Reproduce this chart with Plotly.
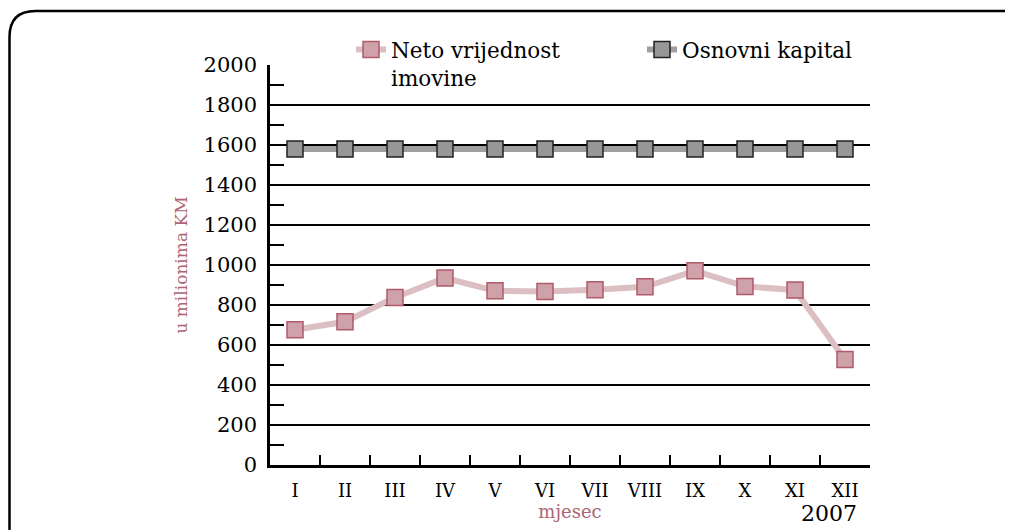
'''
    Monthly line chart: net asset value vs. share capital (2007).
'''
import plotly.graph_objects as go

months = ['I', 'II', 'III', 'IV', 'V', 'VI', 'VII', 'VIII', 'IX', 'X', 'XI', 'XII']
neto_imovina = [676, 716, 838, 935, 871, 868, 876, 891, 971, 893, 875, 528]
osnovni_kapital = [1580] * 12
y_ticks = [0, 200, 400, 600, 800, 1000, 1200, 1400, 1600, 1800, 2000]
grid_ticks = [200, 400, 600, 800, 1000, 1200, 1400, 1600, 1800]

FONT = 'DejaVu Serif'
TITLE_COLOR = '#ad6474'

# the page body adds an 8px margin, so the figure is a bit smaller
W, H = 1005, 522
L, R, T, B = 262, 862, 57, 457


def px_to_paper(px, py):
    return (px - L) / (R - L), (B - py) / (B - T)


def rounded_frame(x0, y0, x1, y1, r):
    '''Path (paper coords) of a rounded rectangle given in pixels.'''
    def p(x, y):
        a, b = px_to_paper(x, y)
        return f'{a:.5f},{b:.5f}'

    path = 'M' + p(x0, y0 + r)
    path += ' Q' + p(x0, y0) + ' ' + p(x0 + r, y0)
    path += ' L' + p(x1 - r, y0)
    path += ' Q' + p(x1, y0) + ' ' + p(x1, y0 + r)
    path += ' L' + p(x1, y1 - r)
    path += ' Q' + p(x1, y1) + ' ' + p(x1 - r, y1)
    path += ' L' + p(x0 + r, y1)
    path += ' Q' + p(x0, y1) + ' ' + p(x0, y1 - r)
    path += ' Z'
    return path


fig = go.Figure()

fig.add_trace(go.Scatter(
    x=months, y=neto_imovina, mode='lines+markers',
    name='Neto vrijednost<br>imovine',
    line=dict(color='#dcbfc3', width=6),
    marker=dict(symbol='square', size=16, color='#cfa1a8',
                line=dict(color='#b05a6a', width=1.5)),
))
fig.add_trace(go.Scatter(
    x=months, y=osnovni_kapital, mode='lines+markers', yaxis='y2',
    name='Osnovni kapital',
    line=dict(color='#a0a0a0', width=6),
    marker=dict(symbol='square', size=16, color='#979797',
                line=dict(color='#222222', width=1.5)),
))

fig.update_layout(
    width=W, height=H,
    margin=dict(l=L, r=W - R, t=T, b=H - B, autoexpand=False),
    paper_bgcolor='white', plot_bgcolor='white',
    font=dict(family=FONT, color='black'),
    showlegend=True,
    legend=dict(
        orientation='h', x=0.135, y=1.09, xanchor='left', yanchor='top',
        valign='top', bgcolor='rgba(0,0,0,0)',
        font=dict(size=21.5, family=FONT), entrywidth=246,
        traceorder='normal',
    ),
    xaxis=dict(
        type='category', categoryorder='array', categoryarray=months,
        range=[-0.5, 11.5],
        tickson='boundaries', ticks='inside', ticklen=10, tickwidth=2,
        tickcolor='black', showline=True, linecolor='black', linewidth=2.5,
        showgrid=False, zeroline=False, ticklabelstandoff=8,
        tickfont=dict(size=18),
        title=dict(text='mjesec', font=dict(size=18, color=TITLE_COLOR), standoff=4),
    ),
    yaxis=dict(
        range=[0, 2000], tickmode='array', tickvals=grid_ticks,
        showticklabels=False, ticks='', showgrid=True, gridcolor='black',
        gridwidth=1.6, zeroline=False, showline=False,
    ),
    yaxis2=dict(
        overlaying='y', side='left', range=[0, 2000], tickmode='array',
        tickvals=y_ticks, ticks='inside', ticklen=14, tickwidth=2,
        tickcolor='black', showline=True, linecolor='black', linewidth=2.5,
        showgrid=False, zeroline=False, ticklabelstandoff=6,
        tickfont=dict(size=21),
        minor=dict(tickvals=[v + 100 for v in y_ticks[:-1]], ticks='inside',
                   ticklen=14, tickwidth=2, tickcolor='black', showgrid=False),
        title=dict(text='u milionima KM', font=dict(size=17, color=TITLE_COLOR),
                   standoff=12),
    ),
    annotations=[dict(
        text='2007', xref='paper', yref='paper', x=0.932, y=-0.122,
        xanchor='center', yanchor='middle',
        showarrow=False, font=dict(size=22, color='black'),
    )],
    shapes=[dict(
        type='path', xref='paper', yref='paper', layer='above',
        path=rounded_frame(1.5, 3, 1024, 600, 26),
        line=dict(color='black', width=2.5),
    )],
)

fig.write_html('out.html')
